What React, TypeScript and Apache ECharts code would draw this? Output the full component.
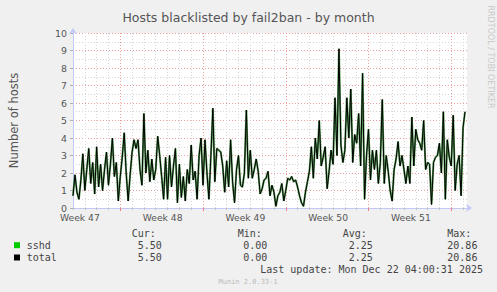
import React, { useEffect, useRef } from "react";
import * as echarts from "echarts";

// ---- data ----
const weekLabels = ["Week 47", "Week 48", "Week 49", "Week 50", "Week 51"];
const yTickValues = [0, 1, 2, 3, 4, 5, 6, 7, 8, 9, 10];

// one value every 2 slots (4 hours), starting at the left edge of the plot
const sshd = [
  0.7, 1.9, 0.9, 0.5, 1.6, 3.1, 1.0, 2.2, 3.4, 1.4,
  2.6, 0.8, 3.5, 1.2, 2.5, 1.0, 2.2, 3.2, 1.3, 2.5,
  4.0, 1.8, 2.6, 0.4, 1.8, 2.9, 4.3, 2.0, 0.4, 1.9,
  3.2, 3.9, 3.4, 3.9, 2.2, 1.3, 5.4, 2.0, 3.3, 1.5,
  2.8, 1.6, 2.2, 4.1, 3.0, 1.8, 0.5, 2.9, 0.5, 3.0,
  1.2, 2.4, 3.4, 0.3, 2.5, 0.6, 1.8, 0.4, 2.2, 1.4,
  3.6, 1.6, 2.1, 0.5, 3.0, 4.0, 1.3, 3.9, 2.0, 0.5,
  3.0, 5.7, 1.5, 3.4, 3.3, 3.2, 2.4, 0.9, 2.7, 1.2,
  3.9, 1.5, 0.3, 2.2, 3.0, 1.3, 1.2, 2.0,
  5.6, 1.7, 3.3, 1.7, 2.2, 2.8, 2.1, 0.8, 1.1, 1.6,
  1.7, 2.1, 0.7, 1.3, 0.9, 0.1, 0.7, 0.9, 1.4, 0.4,
  1.0, 1.7, 1.6, 1.8, 1.5, 1.6, 1.2, 0.7, 0.3, 0.1,
  0.9, 1.5, 2.1, 3.5, 1.7, 4.0, 2.8, 5.0, 2.4, 2.9,
  3.5, 1.1, 2.1, 3.3, 2.5, 6.3, 3.0, 9.1, 3.6, 2.6,
  3.3, 6.3, 4.0, 6.8, 2.6, 4.2, 3.7, 5.4, 2.4, 7.7,
  0.5, 3.0, 4.5, 1.6, 3.3, 2.2, 3.3, 1.4, 2.6, 6.2,
  1.4, 3.0, 2.1, 1.0, 0.4, 2.2, 2.8, 3.8, 2.4, 3.0,
  2.2, 1.4, 2.4, 1.4, 5.2, 2.4, 4.5, 3.9, 3.7, 3.3,
  5.0, 2.2, 2.6, 2.5, 0.2, 2.6, 2.9, 3.0, 3.7, 2.0,
  5.5, 0.5, 3.9, 2.9, 2.4, 5.3, 1.0, 2.5, 3.0, 0.7,
  4.6, 5.5,
];
const total = sshd.slice();

const legendNames = ["sshd", "total"];
const legendColors = ["#00cc00", "#000000"];
const statHeaders = ["Cur:", "Min:", "Avg:", "Max:"];
const statValues = [
  ["5.50", "0.00", "2.25", "20.86"],
  ["5.50", "0.00", "2.25", "20.86"],
];
const lastUpdate = "Last update: Mon Dec 22 04:00:31 2025";
const version = "Munin 2.0.33-1";
const sideText = "RRDTOOL / TOBI OETIKER";
const title = "Hosts blacklisted by fail2ban - by month";
const yName = "Number of hosts";

// ---- time slots of the x axis (2 hours each) ----
const SLOTS = 401;
const STEP = 2;
const DAY = 12;
const WEEK = 84;
const FIRST_WEEK_LINE = 48;
const FIRST_LABEL = 7;

const xCats = Array.from({ length: SLOTS }, (_, i) => {
  const k = (i - FIRST_LABEL) / WEEK;
  return Number.isInteger(k) && k >= 0 && k < weekLabels.length ? weekLabels[k] : "";
});
const isWeek = (i: number) => i >= FIRST_WEEK_LINE && (i - FIRST_WEEK_LINE) % WEEK === 0;
const isDay = (i: number) => i % DAY === 0 && !isWeek(i);

const AXIS = "#c4c8f8";
const TXT = "#555555";
const MONO = '"DejaVu Sans Mono", monospace';
const SANS = '"DejaVu Sans", sans-serif';

export default function App() {
  const ref = useRef<HTMLDivElement>(null);
  useEffect(() => {
    if (!ref.current) return;
    const chart = echarts.init(ref.current, undefined, { renderer: "svg" });

    const colX = [131.7, 237.7, 342.7, 447.3];
    const valX = [137.7, 243.3, 348.7, 447.3];
    const graphics: any[] = [];
    statHeaders.forEach((h, j) => {
      graphics.push({
        type: "text", x: colX[j], y: 233.5,
        style: { text: h, fill: "#444", font: `10px ${MONO}`, textVerticalAlign: "middle", verticalAlign: "middle" },
      });
    });
    legendNames.forEach((n, r) => {
      const y = 245.2 + r * 12.3;
      graphics.push({ type: "rect", shape: { x: 14, y: y - 3, width: 6, height: 6 }, style: { fill: legendColors[r] } });
      graphics.push({
        type: "text", x: 26.7, y,
        style: { text: n, fill: "#444", font: `10px ${MONO}`, textVerticalAlign: "middle", verticalAlign: "middle" },
      });
      statValues[r].forEach((v, j) => {
        graphics.push({
          type: "text", x: valX[j], y,
          style: { text: v, fill: "#444", font: `10px ${MONO}`, textVerticalAlign: "middle", verticalAlign: "middle" },
        });
      });
    });
    graphics.push({
      type: "text", x: 483, y: 269.8,
      style: { text: lastUpdate, fill: "#444", font: `10px ${MONO}`, textAlign: "right", align: "right", textVerticalAlign: "middle", verticalAlign: "middle" },
    });
    graphics.push({
      type: "text", x: 248, y: 281.5,
      style: { text: version, fill: "#bbbbbb", font: `7px ${MONO}`, textAlign: "center", align: "center", textVerticalAlign: "middle", verticalAlign: "middle" },
    });
    graphics.push({
      type: "text", x: 490, y: 57, rotation: -Math.PI / 2,
      style: { text: sideText, fill: "#c8c8c8", font: `8px ${SANS}`, textAlign: "center", align: "center", textVerticalAlign: "middle", verticalAlign: "middle" },
    });

    chart.setOption({
      animation: false,
      backgroundColor: "#f0f0f0",
      title: {
        text: title, left: "center", top: 6,
        textStyle: { fontSize: 12.5, fontWeight: "normal", color: TXT, fontFamily: SANS },
      },
      grid: { left: 67, right: 30, top: 33, bottom: 84, show: true, backgroundColor: "#ffffff", borderWidth: 0 },
      xAxis: [
        {
          type: "category", data: xCats, boundaryGap: false, position: "bottom",
          axisLine: { show: true, lineStyle: { color: AXIS, width: 1 }, symbol: ["none", "arrow"], symbolSize: [6, 6], symbolOffset: [0, 5] },
          axisTick: { show: true, interval: (i: number) => isDay(i), length: 2, lineStyle: { color: "#c0c0c0" } },
          axisLabel: { show: false },
          splitLine: { show: true, interval: (i: number) => isDay(i) && i > 0, lineStyle: { color: "#d6d6d6", type: [1, 2], width: 1 } },
        },
        {
          type: "category", data: xCats, boundaryGap: false, position: "bottom",
          axisLine: { show: false },
          axisTick: { show: true, interval: (i: number) => isWeek(i), length: 3, lineStyle: { color: "#e88080" } },
          axisLabel: {
            show: true, interval: (_i: number, v: string) => v !== "", margin: 5,
            fontSize: 9.2, color: TXT, fontFamily: SANS,
          },
          splitLine: { show: true, interval: (i: number) => isWeek(i), lineStyle: { color: "#f0a0a0", type: [1, 2], width: 1 } },
        },
      ],
      yAxis: {
        type: "value", min: yTickValues[0], max: yTickValues[yTickValues.length - 1], interval: 1,
        name: yName, nameLocation: "middle", nameGap: 53, nameRotate: 90,
        nameTextStyle: { fontSize: 11.5, color: TXT, fontFamily: SANS },
        axisLine: { show: true, lineStyle: { color: AXIS, width: 1 }, symbol: ["none", "arrow"], symbolSize: [6, 6], symbolOffset: [0, 5] },
        axisTick: { show: true, length: 3, lineStyle: { color: "#b0b0b0" } },
        axisLabel: { fontSize: 9.4, color: TXT, fontFamily: SANS, margin: 6 },
        splitLine: { show: true, lineStyle: { color: "#f0a0a0", type: [1, 2], width: 1 } },
        minorTick: { show: false, splitNumber: 2 },
        minorSplitLine: { show: true, lineStyle: { color: "#d6d6d6", type: [1, 2], width: 1 } },
      },
      series: [
        {
          name: legendNames[0], type: "line", xAxisIndex: 0, showSymbol: false, symbol: "none",
          data: sshd.map((v, i) => [i * STEP, v]),
          lineStyle: { color: "#3a8a3a", width: 2, opacity: 0.85 },
          z: 2,
        },
        {
          name: legendNames[1], type: "line", xAxisIndex: 0, showSymbol: false, symbol: "none",
          data: total.map((v, i) => [i * STEP, v]),
          lineStyle: { color: "#000000", width: 1 },
          z: 3,
        },
      ],
      graphic: graphics,
    });
    return () => chart.dispose();
  }, []);
  return <div ref={ref} style={{ position: "fixed", left: 0, top: 0, width: 497, height: 292 }} />;
}
